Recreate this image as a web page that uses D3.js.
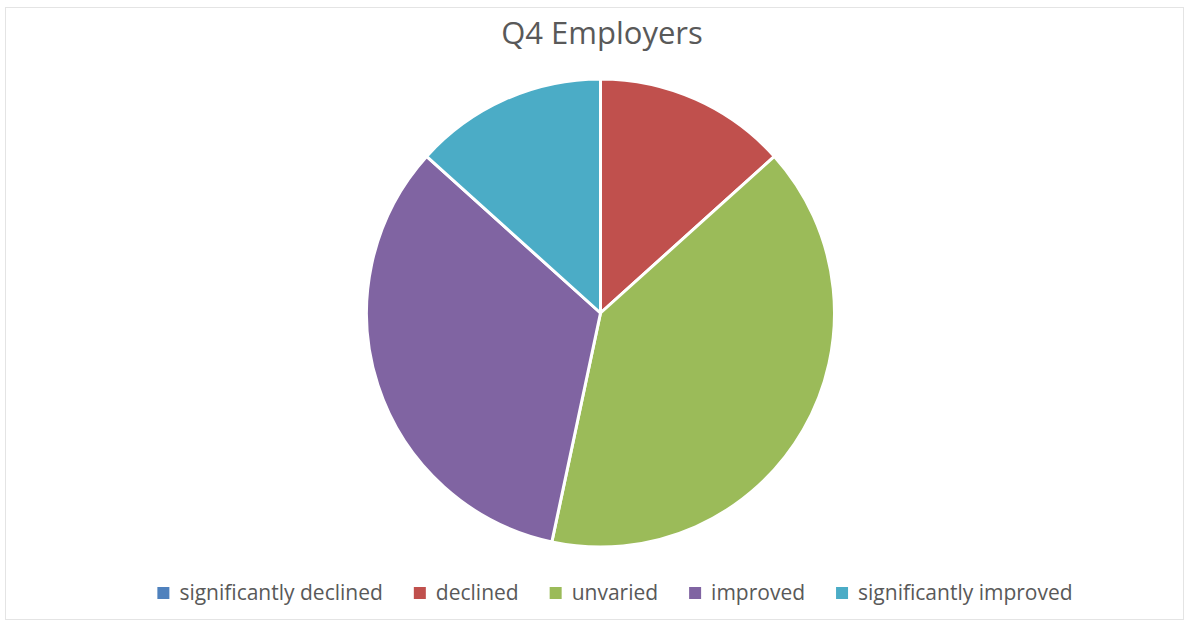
<!DOCTYPE html>
<html>
<head>
<meta charset="utf-8">
<script src="https://cdn.jsdelivr.net/npm/d3@7"></script>
<style>
  html, body { margin: 0; padding: 0; background: #fff; }
  svg { display: block; }
  text { font-family: "Open Sans", "Noto Sans", sans-serif; }
</style>
</head>
<body>
<svg id="chart" width="1190" height="626"></svg>
<script>
// Q4 employer responses
const categories = ["significantly declined", "declined", "unvaried", "improved", "significantly improved"];
const values = [0, 2, 6, 5, 2];
const colors = ["#4F81BD", "#C0504D", "#9BBB59", "#8064A2", "#4BACC6"];
const title = "Q4 Employers";

const width = 1190, height = 626;
const svg = d3.select("#chart");

// chart frame
svg.append("rect")
  .attr("x", 5.5).attr("y", 7.5)
  .attr("width", 1178).attr("height", 612)
  .attr("fill", "#fff")
  .attr("stroke", "#e4e4e4")
  .attr("stroke-width", 1);

svg.append("text")
  .attr("x", 602).attr("y", 44)
  .attr("text-anchor", "middle")
  .attr("font-size", 31)
  .attr("fill", "#595959")
  .text(title);

const cx = 600.5, cy = 313, r = 234;
const data = categories.map((c, i) => ({ name: c, value: values[i], color: colors[i] }));

const pie = d3.pie().sort(null).value(d => d.value);
const arc = d3.arc().innerRadius(0).outerRadius(r);

svg.append("g")
  .attr("transform", `translate(${cx},${cy})`)
  .selectAll("path")
  .data(pie(data).filter(d => d.data.value > 0))
  .join("path")
  .attr("d", arc)
  .attr("fill", d => d.data.color)
  .attr("stroke", "#fff")
  .attr("stroke-width", 3)
  .attr("stroke-linejoin", "round");

// legend, laid out from measured text widths and centred
const legend = svg.append("g");
const fontSize = 21, sw = 12, gapText = 10, gapItem = 31;
const items = legend.selectAll("g").data(data).join("g");
items.append("rect")
  .attr("width", sw).attr("height", sw)
  .attr("y", -sw / 2 - 7)
  .attr("fill", d => d.color);
items.append("text")
  .attr("x", sw + gapText)
  .attr("y", 0)
  .attr("font-size", fontSize)
  .attr("fill", "#595959")
  .text(d => d.name);

let x = 0;
items.each(function () {
  const g = d3.select(this);
  g.attr("transform", `translate(${x},0)`);
  const w = sw + gapText + g.select("text").node().getComputedTextLength();
  x += w + gapItem;
});
const total = x - gapItem;
legend.attr("transform", `translate(${615 - total / 2},600)`);
</script>
</body>
</html>
